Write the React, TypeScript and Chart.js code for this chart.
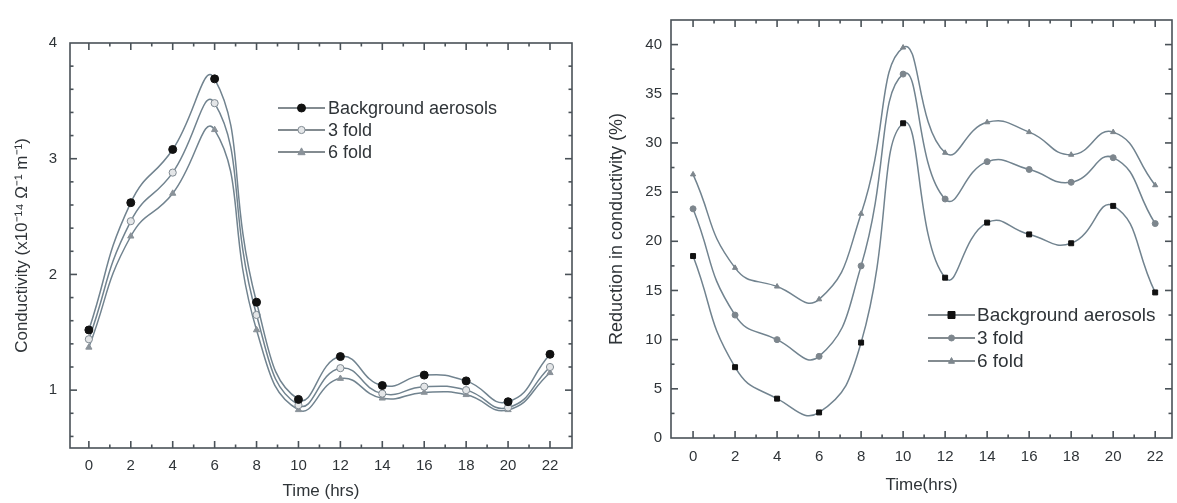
import React, { useEffect, useRef } from 'react';
import { Chart, registerables } from 'chart.js';

Chart.register(...registerables);

// ---------- data ----------
const hours = [0, 2, 4, 6, 8, 10, 12, 14, 16, 18, 20, 22];
const xTickValues = [0, 2, 4, 6, 8, 10, 12, 14, 16, 18, 20, 22];
const seriesLabels = ['Background aerosols', '3 fold', '6 fold'];

const condBackground = [1.52, 2.62, 3.08, 3.69, 1.76, 0.92, 1.29, 1.04, 1.13, 1.08, 0.9, 1.31];
const cond3Fold = [1.44, 2.46, 2.88, 3.48, 1.65, 0.87, 1.19, 0.97, 1.03, 1.0, 0.85, 1.2];
const cond6Fold = [1.37, 2.33, 2.7, 3.25, 1.52, 0.83, 1.1, 0.93, 0.98, 0.96, 0.83, 1.15];
const condYTicks = [1, 2, 3, 4];

const redBackground = [18.5, 7.2, 4.0, 2.6, 9.7, 32.0, 16.3, 21.9, 20.7, 19.8, 23.6, 14.8];
const red3Fold = [23.3, 12.5, 10.0, 8.3, 17.5, 37.0, 24.3, 28.1, 27.3, 26.0, 28.5, 21.8];
const red6Fold = [26.8, 17.3, 15.4, 14.1, 22.8, 39.7, 29.0, 32.1, 31.1, 28.8, 31.1, 25.7];
const redYTicks = [0, 5, 10, 15, 20, 25, 30, 35, 40];

// ---------- styling ----------
const FONT = 'Liberation Sans, Arial, Helvetica, sans-serif';
const TEXT = '#2f3438';
const LINE = '#71838f';
const FRAME = '#4a5258';

function drawMarker(ctx: CanvasRenderingContext2D, style: string, x: number, y: number, r: number, fill: string, stroke: string) {
  ctx.save();
  ctx.fillStyle = fill;
  ctx.strokeStyle = stroke;
  ctx.lineWidth = 1;
  ctx.beginPath();
  if (style === 'rect') {
    ctx.rect(x - r, y - r, 2 * r, 2 * r);
  } else if (style === 'triangle') {
    ctx.moveTo(x, y - r * 1.15);
    ctx.lineTo(x + r, y + r * 0.75);
    ctx.lineTo(x - r, y + r * 0.75);
    ctx.closePath();
  } else {
    ctx.arc(x, y, r, 0, Math.PI * 2);
  }
  ctx.fill();
  ctx.stroke();
  ctx.restore();
}

const frameTicksPlugin = {
  id: 'frameTicks',
  afterDatasetsDraw(chart: any, _args: any, opts: any) {
    const { ctx, chartArea } = chart;
    const { left, right, top, bottom } = chartArea;
    const xs = chart.scales.x;
    const ys = chart.scales.y;
    ctx.save();
    ctx.strokeStyle = FRAME;
    ctx.lineWidth = 1.6;
    ctx.strokeRect(left, top, right - left, bottom - top);
    const major = 7;
    const minor = 3.5;
    const tick = (x1: number, y1: number, x2: number, y2: number) => {
      ctx.beginPath();
      ctx.moveTo(x1, y1);
      ctx.lineTo(x2, y2);
      ctx.stroke();
    };
    // x ticks (minor every xMinor, major on tick values)
    const xCount = Math.floor((xs.max - xs.min) / opts.xMinor) + 2;
    const xStart = Math.ceil(xs.min / opts.xMinor);
    for (let i = xStart; i < xStart + xCount; i++) {
      const v = i * opts.xMinor;
      if (v < xs.min || v > xs.max) continue;
      const px = xs.getPixelForValue(v);
      if (px < left + 2 || px > right - 2) continue;
      const isMajor = xTickValues.includes(Math.round(v * 1000) / 1000);
      const len = isMajor ? major : minor;
      tick(px, bottom, px, bottom - len);
      tick(px, top, px, top + len);
    }
    const yCount = Math.floor((ys.max - ys.min) / opts.yMinor) + 2;
    const yStart = Math.ceil(ys.min / opts.yMinor - 1e-6);
    for (let i = yStart; i < yStart + yCount; i++) {
      const v = Math.round(i * opts.yMinor * 1000) / 1000;
      if (v < ys.min || v > ys.max) continue;
      const py = ys.getPixelForValue(v);
      if (py < top + 2 || py > bottom - 2) continue;
      const isMajor = opts.yMajor.includes(v);
      const len = isMajor ? major : minor;
      tick(left, py, left + len, py);
      tick(right, py, right - len, py);
    }
    ctx.restore();
  },
};

const customLegendPlugin = {
  id: 'customLegend',
  afterDraw(chart: any, _args: any, opts: any) {
    const { ctx } = chart;
    ctx.save();
    chart.data.datasets.forEach((ds: any, i: number) => {
      const y = opts.rows[i];
      ctx.strokeStyle = opts.lineColor;
      ctx.lineWidth = 1.5;
      ctx.beginPath();
      ctx.moveTo(opts.x0, y);
      ctx.lineTo(opts.x1, y);
      ctx.stroke();
      drawMarker(ctx, ds.pointStyle, (opts.x0 + opts.x1) / 2, y, ds.pointRadius, ds.pointBackgroundColor, ds.pointBorderColor);
      ctx.fillStyle = TEXT;
      ctx.font = `${opts.fontSize}px ${FONT}`;
      ctx.textBaseline = 'middle';
      ctx.textAlign = 'left';
      ctx.fillText(ds.label, opts.textX, y + 1);
    });
    ctx.restore();
  },
};

type PanelSpec = {
  width: number;
  height: number;
  left: number;
  series: number[][];
  styles: { pointStyle: string; radius: number; fill: string; stroke: string }[];
  xMin: number;
  xMax: number;
  yMin: number;
  yMax: number;
  yTicks: number[];
  yMinor: number;
  areaLeft: number;
  areaRight: number;
  areaTop: number;
  areaBottom: number;
  yTitle: string;
  xTitle: string;
  yTitleSize: number;
  yTitlePad: number;
  xTitlePad: number;
  yTickPad: number;
  xTickPad: number;
  legend: any;
};

function Panel({ spec }: { spec: PanelSpec }) {
  const ref = useRef<HTMLCanvasElement | null>(null);
  useEffect(() => {
    if (!ref.current) return;
    const datasets = spec.series.map((vals, i) => ({
      label: seriesLabels[i],
      data: hours.map((h, j) => ({ x: h, y: vals[j] })),
      borderColor: LINE,
      borderWidth: 1.5,
      tension: 0.5,
      fill: false,
      pointStyle: spec.styles[i].pointStyle,
      pointRadius: spec.styles[i].radius,
      pointBackgroundColor: spec.styles[i].fill,
      pointBorderColor: spec.styles[i].stroke,
      pointBorderWidth: 1,
    }));
    const tickFont = { family: FONT, size: 15 };
    const chart = new Chart(ref.current, {
      type: 'line',
      data: { datasets },
      plugins: [frameTicksPlugin, customLegendPlugin],
      options: {
        animation: false,
        responsive: false,
        maintainAspectRatio: false,
        layout: {
          padding: {
            left: 0,
            top: spec.areaTop,
            right: spec.width - spec.areaRight,
            bottom: 0,
          },
        },
        plugins: {
          legend: { display: false },
          tooltip: { enabled: false },
          frameTicks: { xMinor: 1, yMinor: spec.yMinor, yMajor: spec.yTicks },
          customLegend: spec.legend,
        } as any,
        scales: {
          x: {
            type: 'linear',
            min: spec.xMin,
            max: spec.xMax,
            grid: { display: false, drawTicks: false },
            border: { display: false },
            afterBuildTicks: (s: any) => {
              s.ticks = xTickValues.map((v) => ({ value: v }));
            },
            afterFit: (s: any) => {
              s.height = spec.height - spec.areaBottom;
            },
            ticks: {
              font: tickFont,
              color: TEXT,
              padding: spec.xTickPad,
              maxRotation: 0,
              autoSkip: false,
            },
            title: {
              display: true,
              text: spec.xTitle,
              font: { family: FONT, size: 17 },
              color: TEXT,
              padding: { top: 0, bottom: spec.xTitlePad },
            },
          },
          y: {
            type: 'linear',
            min: spec.yMin,
            max: spec.yMax,
            grid: { display: false, drawTicks: false },
            border: { display: false },
            afterBuildTicks: (s: any) => {
              s.ticks = spec.yTicks.map((v) => ({ value: v }));
            },
            afterFit: (s: any) => {
              s.width = spec.areaLeft;
            },
            ticks: {
              font: tickFont,
              color: TEXT,
              padding: spec.yTickPad,
              autoSkip: false,
            },
            title: {
              display: true,
              text: spec.yTitle,
              font: { family: FONT, size: spec.yTitleSize },
              color: TEXT,
              padding: { top: spec.yTitlePad, bottom: 0 },
            },
          },
        },
      } as any,
    });
    return () => chart.destroy();
  }, [spec]);
  return (
    <canvas
      ref={ref}
      width={spec.width}
      height={spec.height}
      style={{ position: 'absolute', left: spec.left, top: 0, width: spec.width, height: spec.height }}
    />
  );
}

const leftSpec: PanelSpec = {
  width: 590,
  height: 503,
  left: 0,
  series: [condBackground, cond3Fold, cond6Fold],
  styles: [
    { pointStyle: 'circle', radius: 4, fill: '#111111', stroke: '#111111' },
    { pointStyle: 'circle', radius: 3.6, fill: '#e4e6e8', stroke: '#808a92' },
    { pointStyle: 'triangle', radius: 3.6, fill: '#8a9299', stroke: '#8a9299' },
  ],
  xMin: -0.9,
  xMax: 23.05,
  yMin: 0.5,
  yMax: 4.0,
  yTicks: condYTicks,
  yMinor: 0.2,
  areaLeft: 70,
  areaRight: 572,
  areaTop: 43,
  areaBottom: 448,
  yTitle: 'Conductivity (x10\u207B\u00B9\u2074 \u03A9\u207B\u00B9 m\u207B\u00B9)',
  xTitle: 'Time (hrs)',
  yTitleSize: 17,
  yTitlePad: 12,
  xTitlePad: 1,
  yTickPad: 13,
  xTickPad: 9,
  legend: { x0: 278, x1: 325, textX: 328, rows: [108, 130, 152], fontSize: 18, lineColor: '#5a646b' },
};

const rightSpec: PanelSpec = {
  width: 587,
  height: 503,
  left: 590,
  series: [redBackground, red3Fold, red6Fold],
  styles: [
    { pointStyle: 'rect', radius: 3.5, fill: '#111111', stroke: '#111111' },
    { pointStyle: 'circle', radius: 3, fill: '#7d868d', stroke: '#7d868d' },
    { pointStyle: 'triangle', radius: 3, fill: '#7d868d', stroke: '#7d868d' },
  ],
  xMin: -1.05,
  xMax: 22.8,
  yMin: 0,
  yMax: 42.5,
  yTicks: redYTicks,
  yMinor: 2.5,
  areaLeft: 81,
  areaRight: 585,
  areaTop: 20,
  areaBottom: 438,
  yTitle: 'Reduction in conductivity (%)',
  xTitle: 'Time(hrs)',
  yTitleSize: 18,
  yTitlePad: 16,
  xTitlePad: 7,
  yTickPad: 9,
  xTickPad: 10,
  legend: { x0: 338, x1: 385, textX: 387, rows: [315, 338, 361], fontSize: 19, lineColor: '#5a646b' },
};

export default function App() {
  return (
    <div style={{ position: 'absolute', left: 0, top: 0, width: 1177, height: 503, background: '#ffffff', overflow: 'hidden' }}>
      <Panel spec={leftSpec} />
      <Panel spec={rightSpec} />
    </div>
  );
}
